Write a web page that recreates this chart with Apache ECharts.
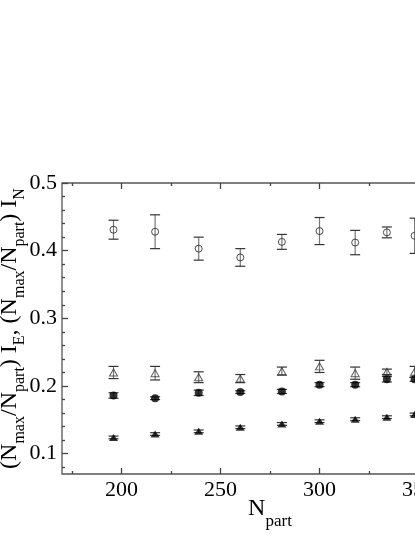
<!DOCTYPE html>
<html>
<head>
<meta charset="utf-8">
<script src="https://cdn.jsdelivr.net/npm/echarts@6/dist/echarts.min.js"></script>
<style>
  html, body { margin: 0; padding: 0; overflow: hidden; background: #fff; }
  #chart { width: 500px; height: 537px; }
</style>
</head>
<body>
<div id="chart"></div>
<script>
// values
const nPart = [196, 217, 239, 260, 281, 300, 318, 334, 348];
const openCircle = [0.431, 0.428, 0.403, 0.390, 0.413, 0.429, 0.412, 0.427, 0.422];
const openCircleErr = [0.014, 0.025, 0.017, 0.013, 0.011, 0.020, 0.018, 0.008, 0.026];
const openTriangle = [0.220, 0.219, 0.213, 0.211, 0.222, 0.229, 0.219, 0.221, 0.221];
const openTriangleErr = [0.009, 0.010, 0.008, 0.006, 0.006, 0.009, 0.009, 0.004, 0.008];
const filledCircle = [0.186, 0.182, 0.190, 0.191, 0.192, 0.202, 0.202, 0.210, 0.210];
const filledCircleErr = [0.004, 0.002, 0.004, 0.002, 0.003, 0.003, 0.003, 0.004, 0.003];
const filledTriangle = [0.124, 0.129, 0.133, 0.139, 0.144, 0.148, 0.151, 0.154, 0.158];
const filledTriangleErr = [0.002, 0.002, 0.002, 0.002, 0.002, 0.002, 0.002, 0.002, 0.002];

const xMajorTicks = [200, 250, 300, 350];
const xMinorTicks = [175, 225, 275, 325];
const yMajorTicks = [0.1, 0.2, 0.3, 0.4, 0.5];
const yMinorTicks = [0.08, 0.12, 0.14, 0.16, 0.18, 0.22, 0.24, 0.26, 0.28,
  0.32, 0.34, 0.36, 0.38, 0.42, 0.44, 0.46, 0.48];

const FONT = '"Liberation Serif", "DejaVu Serif", serif';
const AXIS_COLOR = '#444';

const chart = echarts.init(document.getElementById('chart'));

function points(vals) {
  return nPart.map((x, i) => [x, vals[i]]);
}
function bars(vals, errs) {
  return nPart.map((x, i) => [x, vals[i] - errs[i], vals[i] + errs[i]]);
}

// error bar: grey stem, darker caps
function renderErr(params, api) {
  const x = api.value(0);
  const lo = api.coord([x, api.value(1)]);
  const hi = api.coord([x, api.value(2)]);
  const w = 5;
  return {
    type: 'group',
    children: [
      { type: 'line', shape: { x1: lo[0], y1: lo[1], x2: hi[0], y2: hi[1] },
        style: { stroke: '#777', lineWidth: 1.2 } },
      { type: 'line', shape: { x1: lo[0] - w, y1: lo[1], x2: lo[0] + w, y2: lo[1] },
        style: { stroke: '#333', lineWidth: 1.2 } },
      { type: 'line', shape: { x1: hi[0] - w, y1: hi[1], x2: hi[0] + w, y2: hi[1] },
        style: { stroke: '#333', lineWidth: 1.2 } }
    ]
  };
}

function errSeries(vals, errs) {
  return {
    type: 'custom',
    renderItem: renderErr,
    data: bars(vals, errs),
    encode: { x: 0, y: [1, 2] },
    silent: true,
    z: 2
  };
}

const subStyle = { fontFamily: FONT, fontSize: 16, color: '#000', padding: [20, 0, 0, 0] };
const subStyleX = { fontFamily: FONT, fontSize: 17, color: '#000', padding: [25, 0, 0, 0] };

function xTickAxis(pos, ticks, len, labels) {
  return {
    type: 'value', min: 170, max: 380, position: pos,
    axisLine: { show: false },
    splitLine: { show: false },
    axisTick: { show: true, inside: true, length: len, customValues: ticks,
      lineStyle: { color: AXIS_COLOR, width: 1.3 } },
    axisLabel: labels ? { show: true, customValues: ticks, margin: 5,
      fontFamily: FONT, fontSize: 22, color: '#000' } : { show: false }
  };
}
function yTickAxis(ticks, len, labels) {
  return {
    type: 'value', min: 0.07, max: 0.5, position: 'left',
    axisLine: { show: false },
    splitLine: { show: false },
    axisTick: { show: true, inside: true, length: len, customValues: ticks,
      lineStyle: { color: AXIS_COLOR, width: 1.3 } },
    axisLabel: labels ? { show: true, customValues: ticks, margin: 5,
      fontFamily: FONT, fontSize: 22, color: '#000',
      formatter: v => v.toFixed(1) } : { show: false }
  };
}

const xMain = xTickAxis('bottom', xMajorTicks, 6, true);
xMain.name = 'N{s|part}';
xMain.nameLocation = 'middle';
xMain.nameGap = 14;
xMain.nameMoveOverlap = false;
xMain.nameTextStyle = { fontFamily: FONT, fontSize: 24, color: '#000', rich: { s: subStyleX } };

const yMain = yTickAxis(yMajorTicks, 6, true);
yMain.name = '(N{s|max}/N{s|part}) I{s|E}, (N{s|max}/N{s|part}) I{s|N}';
yMain.nameLocation = 'middle';
yMain.nameRotate = 90;
yMain.nameGap = 34;
yMain.nameMoveOverlap = false;
yMain.nameTextStyle = { fontFamily: FONT, fontSize: 24, color: '#000', rich: { s: subStyle } };

const option = {
  animation: false,
  backgroundColor: '#fff',
  grid: {
    left: 62, top: 183, width: 416, bottom: 63,
    outerBoundsMode: 'none', containLabel: false,
    show: true, borderColor: '#555', borderWidth: 1.3, backgroundColor: 'transparent'
  },
  xAxis: [
    xMain,
    xTickAxis('bottom', xMinorTicks, 3, false),
    xTickAxis('top', xMajorTicks, 6, false),
    xTickAxis('top', xMinorTicks, 3, false)
  ],
  yAxis: [
    yMain,
    yTickAxis(yMinorTicks, 3, false)
  ],
  series: [
    errSeries(openCircle, openCircleErr),
    errSeries(openTriangle, openTriangleErr),
    errSeries(filledCircle, filledCircleErr),
    errSeries(filledTriangle, filledTriangleErr),
    {
      type: 'scatter', data: points(openCircle), symbol: 'circle', symbolSize: 7, z: 3,
      itemStyle: { color: 'rgba(0,0,0,0)', borderColor: '#222', borderWidth: 1 }
    },
    {
      type: 'scatter', data: points(openTriangle), symbol: 'triangle', symbolSize: [8, 7], z: 3,
      itemStyle: { color: 'rgba(0,0,0,0)', borderColor: '#333', borderWidth: 1 }
    },
    {
      type: 'scatter', data: points(filledCircle), symbol: 'circle', symbolSize: 8, z: 3,
      itemStyle: { color: '#000' }
    },
    {
      type: 'scatter', data: points(filledTriangle), symbol: 'triangle', symbolSize: [9, 7], z: 3,
      itemStyle: { color: '#000' }
    }
  ]
};

chart.setOption(option);
</script>
</body>
</html>
